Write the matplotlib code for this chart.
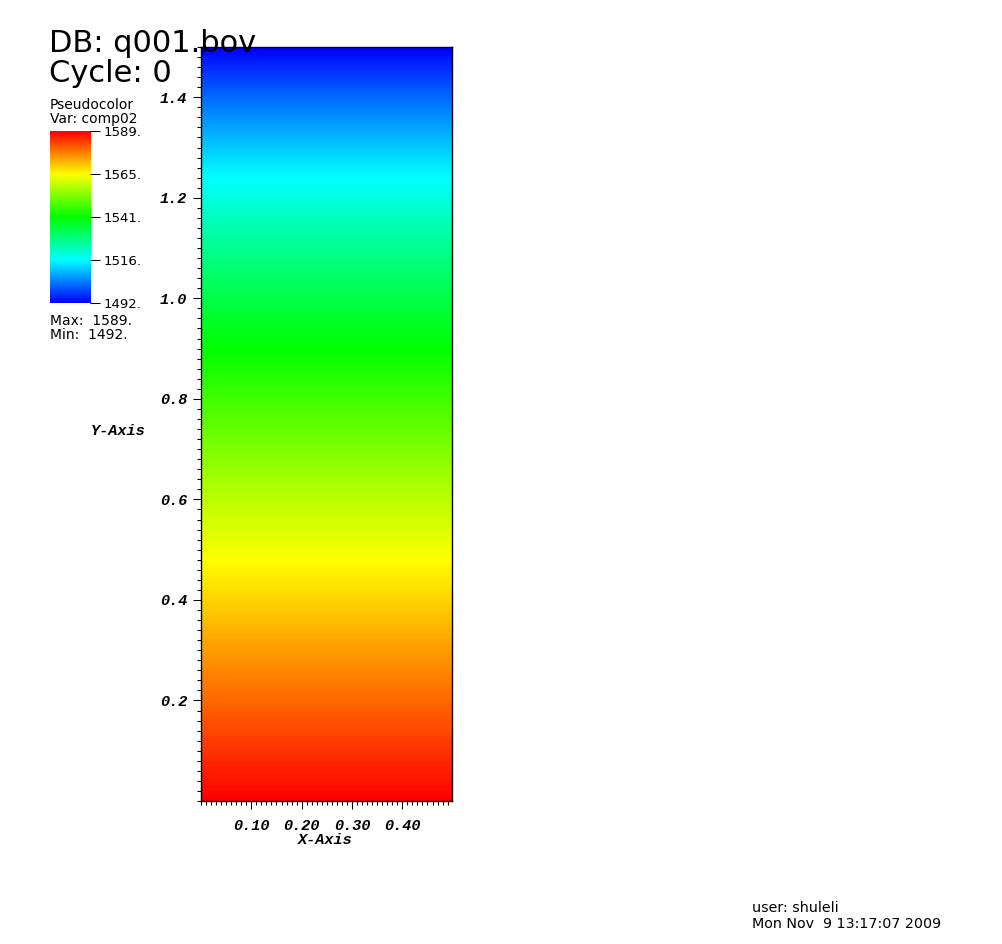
"""
VisIt-style pseudocolor plot of comp02 from q001.bov, redrawn with matplotlib.
"""
import matplotlib
matplotlib.use("Agg")
import matplotlib.pyplot as plt
import numpy as np
from matplotlib.colors import LinearSegmentedColormap
from matplotlib.font_manager import FontProperties
from matplotlib.ticker import MultipleLocator, FormatStrFormatter

# ── data: comp02 profile along Y (field is uniform in X) ──
y_levels = [0.0, 0.1, 0.2, 0.3, 0.4, 0.5, 0.6, 0.7,
            0.8, 0.9, 1.0, 1.1, 1.2, 1.3, 1.4, 1.5]
comp02 = [1589.0, 1584.1, 1579.1, 1574.0, 1568.8, 1563.6, 1558.2, 1552.5,
          1546.6, 1540.5, 1534.0, 1527.1, 1519.6, 1511.4, 1502.2, 1492.0]
x_range = [0.0, 0.4987]
vmin, vmax = 1492.0, 1589.0
cbar_ticks = [1492.0, 1516.25, 1540.5, 1564.75, 1589.0]
cbar_labels = ["1492.", "1516.", "1541.", "1565.", "1589."]
x_ticks = [0.1, 0.2, 0.3, 0.4]
y_ticks = [0.2, 0.4, 0.6, 0.8, 1.0, 1.2, 1.4]

W, H = 1003, 944
DPI = 100

# VisIt "hot" colour table
cmap = LinearSegmentedColormap.from_list(
    "visit_hot", ["#0000ff", "#00ffff", "#00ff00", "#ffff00", "#ff0000"])

plt.rcParams["font.family"] = ["DejaVu Sans"]
tick_font = dict(family="Liberation Mono", weight="bold", style="italic", size=11)

fig = plt.figure(figsize=(W / DPI, H / DPI), dpi=DPI)
fig.patch.set_facecolor("white")


def fx(px):
    return px / W


def fy(py):
    return 1 - py / H


# ── main plot ──
ax = fig.add_axes([fx(201), fy(801), fx(452) - fx(201), fy(47) - fy(801)])
field = np.array(comp02)[:, None]
dy = (y_levels[-1] - y_levels[0]) / (len(y_levels) - 1)
ax.imshow(field, cmap=cmap, vmin=vmin, vmax=vmax, origin="lower",
          aspect="auto", interpolation="bilinear", interpolation_stage="data",
          extent=[x_range[0], x_range[1],
                  y_levels[0] - dy / 2, y_levels[-1] + dy / 2])
ax.set_xlim(*x_range)
ax.set_ylim(y_levels[0], y_levels[-1])

ax.set_xticks(x_ticks)
ax.set_yticks(y_ticks)
ax.xaxis.set_major_formatter(FormatStrFormatter("%.2f"))
ax.yaxis.set_major_formatter(FormatStrFormatter("%.1f"))
ax.xaxis.set_minor_locator(MultipleLocator(0.01))
ax.yaxis.set_minor_locator(MultipleLocator(0.02))
ax.tick_params(which="both", direction="out", width=0.75, color="black",
               top=False, right=False)
ax.tick_params(which="major", length=6)
ax.tick_params(which="minor", length=3)
ax.tick_params(axis="x", which="major", pad=7)
ax.tick_params(axis="y", which="major", pad=4)
for lbl in ax.get_xticklabels() + ax.get_yticklabels():
    lbl.set_fontproperties(FontProperties(**tick_font))
for s in ax.spines.values():
    s.set_linewidth(1.0)
    s.set_color("black")

fig.text(fx(325), fy(840), "X-Axis", ha="center", va="center", **tick_font)
fig.text(fx(118), fy(431), "Y-Axis", ha="center", va="center", **tick_font)

# ── legend colour bar ──
cax = fig.add_axes([fx(50), fy(303), fx(90) - fx(50), fy(131) - fy(303)])
grad = np.linspace(vmin, vmax, 256)[:, None]
cax.imshow(grad, cmap=cmap, vmin=vmin, vmax=vmax, origin="lower",
           aspect="auto", extent=[0, 1, vmin, vmax])
cax.set_xlim(0, 1)
cax.set_ylim(vmin, vmax)
for s in cax.spines.values():
    s.set_visible(False)
cax.set_xticks([])
cax.yaxis.tick_right()
cax.set_yticks(cbar_ticks)
cax.set_yticklabels(cbar_labels)
cax.tick_params(axis="y", direction="out", length=7, width=0.75, pad=3,
                labelsize=9.5)

# ── annotation text ──
fig.text(fx(49), fy(44), "DB: q001.bov", fontsize=22, ha="left", va="center",
         zorder=10)
fig.text(fx(49), fy(74), "Cycle: 0", fontsize=22, ha="left", va="center",
         zorder=10)
fig.text(fx(50), fy(105), "Pseudocolor", fontsize=10, ha="left", va="center")
fig.text(fx(50), fy(119), "Var: comp02", fontsize=10, ha="left", va="center")
fig.text(fx(50), fy(321), "Max:  1589.", fontsize=10, ha="left", va="center")
fig.text(fx(50), fy(335), "Min:  1492.", fontsize=10, ha="left", va="center")
fig.text(fx(752), fy(908), "user: shuleli", fontsize=10.3, ha="left", va="center")
fig.text(fx(752), fy(924), "Mon Nov  9 13:17:07 2009", fontsize=10.3,
         ha="left", va="center")

fig.savefig("out.png", dpi=DPI, facecolor="white")
plt.close(fig)
